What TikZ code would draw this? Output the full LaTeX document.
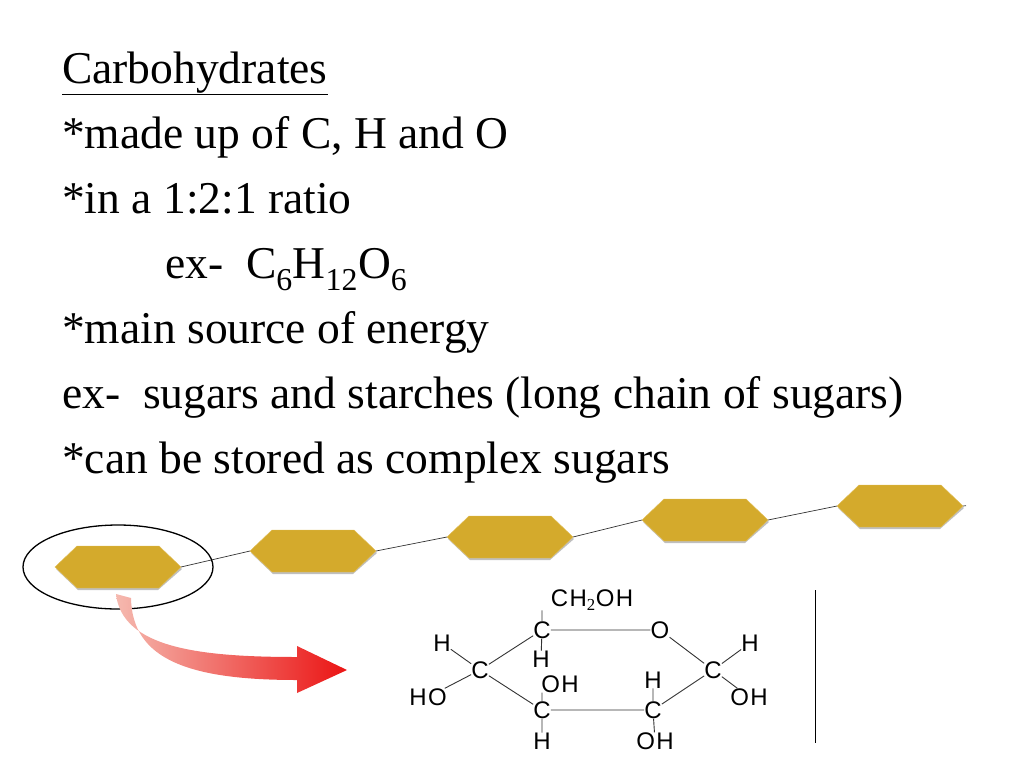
\documentclass[tikz,border=0pt]{standalone}
\usepackage{fontspec}
\setmainfont{Liberation Serif}
\newfontfamily\chemfont[LetterSpace=6]{Liberation Sans}
\begin{document}
\begin{tikzpicture}[x=1pt,y=-1pt,
  txt/.style={anchor=base west,inner sep=0pt,font=\fontsize{45.5}{48}\selectfont},
  atom/.style={inner sep=0pt,font=\chemfont\fontsize{24}{26}\selectfont},
  bd/.style={draw=black!80,line width=0.9pt}]
\useasboundingbox (0,0) rectangle (1024,768);
\node[txt] (t1) at (62,83) {\underline{Carbohydrates}};
\node[txt] (t2) at (62,148) {*made up of C, H and O};
\node[txt] (t3) at (62,213) {*in a 1:2:1 ratio};
\node[txt] (t4) at (165,278) {ex-\ \ C$_{\mathrm{6}}$H$_{\mathrm{12}}$O$_{\mathrm{6}}$};
\node[txt] (t5) at (62,343) {*main source of energy};
\node[txt] (t6) at (62,408) {ex-\ \ sugars and starches (long chain of sugars)};
\node[txt] (t7) at (62,473) {*can be stored as complex sugars};
% chain
\foreach \i/\x/\y in {1/118/567,2/313/551,3/510/537,4/705/520,5/900/506}{
  \fill[fill=black!25] (\x-62,\y+2) -- (\x-40,\y-19) -- (\x+40,\y-19) -- (\x+64,\y+2) -- (\x+40,\y+23) -- (\x-40,\y+23) -- cycle;
  \fill[fill={rgb,255:red,212;green,170;blue,44},draw={rgb,255:red,225;green,190;blue,90}] (\x-63,\y) -- (\x-41,\y-21) -- (\x+41,\y-21) -- (\x+63,\y) -- (\x+41,\y+21) -- (\x-41,\y+21) -- cycle;
  \coordinate (hl\i) at (\x-63,\y);
  \coordinate (hr\i) at (\x+63,\y);
}
\draw[black!80,line width=0.7pt] (hr1)--(hl2) (hr2)--(hl3) (hr3)--(hl4) (hr4)--(hl5) (hr5)--++(3,-0.3);
\draw[line width=1.3pt] (118,567) ellipse (95 and 42);
% arrow
\shade[left color={rgb,255:red,245;green,185;blue,175},right color={rgb,255:red,235;green,20;blue,20}]
  (116,594) .. controls (122,648) and (200,657) .. (297,657) -- (297,646) -- (347,670) -- (297,693) -- (297,680)
  .. controls (190,680) and (132,660) .. (131,598) -- cycle;
% glucose
\node[atom] (ch) at (592,600) {CH$_{\mathrm{2}}$OH};
\node[atom] (c5) at (542,630) {C};
\node[atom] (o) at (660,630) {O};
\node[atom] (c1) at (713,670) {C};
\node[atom] (c2) at (653,710) {C};
\node[atom] (c3) at (542,710) {C};
\node[atom] (c4) at (480,670) {C};
\node[atom] (h5) at (541,659) {H};
\node[atom] (h4) at (442,643) {H};
\node[atom] (ho4) at (428,697) {HO};
\node[atom] (oh3) at (560,684) {OH};
\node[atom] (h3) at (542,741) {H};
\node[atom] (h2) at (653,680) {H};
\node[atom] (oh2) at (655,741) {OH};
\node[atom] (h1) at (750,643) {H};
\node[atom] (oh1) at (749,697) {OH};
\draw[bd] (c5)--(o) (o)--(c1) (c1)--(c2) (c2)--(c3) (c3)--(c4) (c4)--(c5);
\draw[bd] (c5)--(c5|-ch.south) (c5)--(h5) (c4)--(h4) (c4)--(ho4) (c3)--(c3|-oh3.south) (c3)--(h3)
  (c2)--(h2) (c2)--(oh2) (c1)--(h1) (c1)--(oh1);
\coordinate (v1) at (815,590); \coordinate (v2) at (815,743);
\draw[line width=0.8pt] (v1)--(v2);
\end{tikzpicture}
\end{document}
